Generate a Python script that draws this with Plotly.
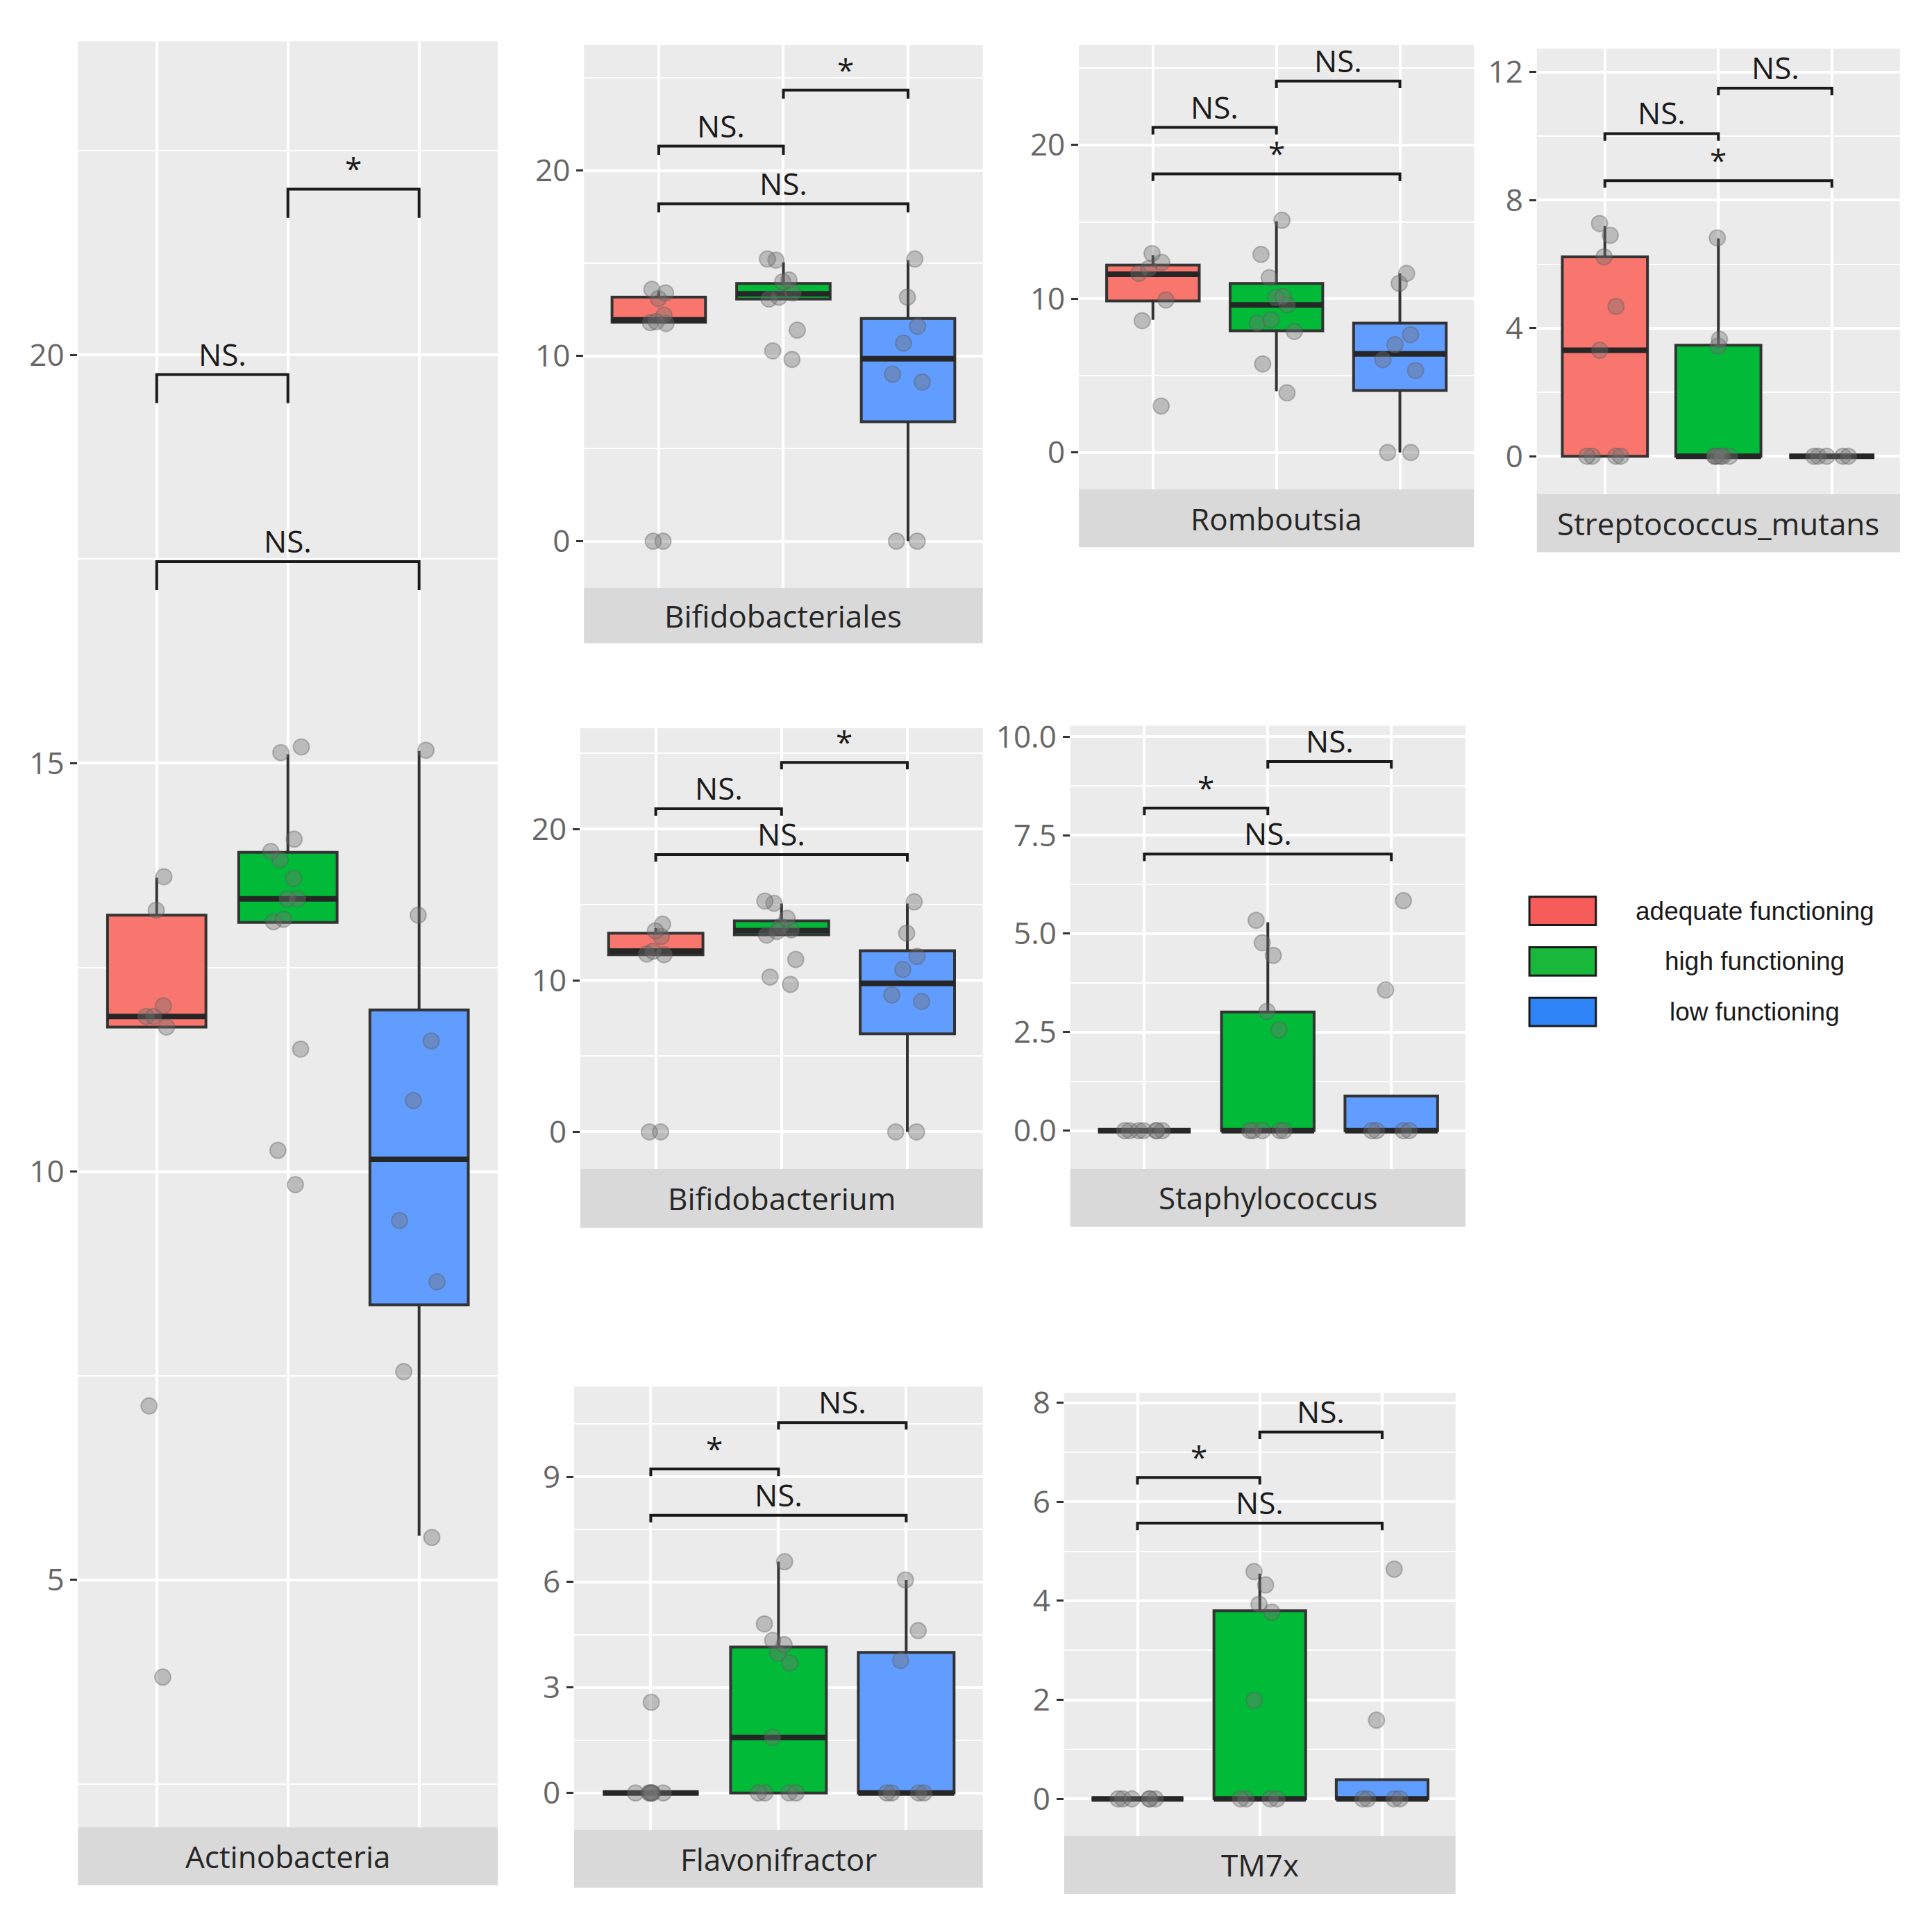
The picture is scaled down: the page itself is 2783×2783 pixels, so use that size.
import plotly.graph_objects as go

# ---------------- data ----------------
GROUPS = ["adequate functioning", "high functioning", "low functioning"]
BOX_FILL = ["#F8766D", "#00BA38", "#619CFF"]
LEGEND_FILL = ["#F65C5A", "#1AB83A", "#2F85F7"]

TAXA = ["Actinobacteria", "Bifidobacteriales", "Romboutsia", "Streptococcus_mutans",
        "Bifidobacterium", "Staphylococcus", "Flavonifractor", "TM7x"]

# box stats per group: [lower whisker, Q1, median, Q3, upper whisker]
ACTINO_STATS = [[11.77, 11.77, 11.90, 13.14, 13.60],
                [13.05, 13.05, 13.34, 13.91, 15.11],
                [5.54, 8.37, 10.15, 11.98, 15.15]]
ACTINO_PTS = [[13.61, 13.20, 12.03, 11.90, 11.90, 11.77, 7.13, 3.81],
              [15.20, 15.13, 14.07, 13.92, 13.82, 13.59, 13.34, 13.34, 13.09, 13.06, 11.50, 10.26, 9.84],
              [15.16, 13.14, 11.60, 10.87, 9.40, 8.65, 7.55, 5.52]]

BIFIDOALES_STATS = [[11.75, 11.81, 11.95, 13.17, 13.49],
                    [13.07, 13.07, 13.35, 13.91, 15.06],
                    [0.0, 6.45, 9.85, 12.02, 15.17]]
BIFIDOALES_PTS = [[13.59, 13.40, 13.10, 12.20, 11.85, 11.80, 11.75, 0.0, 0.0],
                  [15.17, 15.23, 14.00, 14.10, 13.40, 13.17, 13.07, 11.39, 10.27, 9.81],
                  [15.23, 13.17, 11.60, 10.69, 9.01, 8.59, 0.0, 0.0]]

ROMBOUTSIA_STATS = [[8.63, 9.86, 11.59, 12.19, 12.84],
                    [3.99, 7.92, 9.60, 11.00, 15.04],
                    [0.0, 4.03, 6.41, 8.41, 11.65]]
ROMBOUTSIA_PTS = [[12.94, 12.36, 11.97, 11.65, 9.92, 8.57, 3.02],
                  [15.10, 12.88, 11.37, 10.14, 10.08, 9.60, 8.63, 8.41, 7.87, 5.76, 3.88],
                  [11.65, 11.00, 7.66, 7.01, 6.04, 5.33, 0.0, 0.0]]

STREP_STATS = [[0.0, 0.0, 3.31, 6.23, 7.19],
               [0.0, 0.0, 0.0, 3.47, 6.80],
               [0.0, 0.0, 0.0, 0.0, 0.0]]
STREP_PTS = [[7.27, 6.90, 6.23, 4.68, 3.31, 0.0, 0.0, 0.0, 0.0],
             [6.82, 3.65, 3.44, 0.0, 0.0, 0.0, 0.0, 0.0, 0.0],
             [0.0, 0.0, 0.0, 0.0, 0.0]]

BIFIDOIUM_STATS = [[11.71, 11.71, 11.95, 13.13, 13.46],
                   [13.02, 13.02, 13.30, 13.94, 15.09],
                   [0.0, 6.48, 9.81, 11.97, 15.09]]
BIFIDOIUM_PTS = [[13.72, 13.28, 12.91, 11.93, 11.75, 11.71, 0.0, 0.0],
                 [15.25, 15.10, 14.11, 13.57, 13.35, 13.24, 13.00, 11.39, 10.23, 9.75],
                 [15.20, 13.13, 11.60, 10.73, 9.05, 8.62, 0.0, 0.0]]

STAPH_STATS = [[0.0, 0.0, 0.0, 0.0, 0.0],
               [0.0, 0.0, 0.0, 3.01, 5.29],
               [0.0, 0.0, 0.0, 0.88, 0.88]]
STAPH_PTS = [[0.0, 0.0, 0.0, 0.0, 0.0, 0.0, 0.0],
             [5.34, 4.77, 4.45, 3.03, 2.56, 0.0, 0.0, 0.0, 0.0, 0.0],
             [5.84, 3.57, 0.0, 0.0, 0.0, 0.0]]

FLAVO_STATS = [[0.0, 0.0, 0.0, 0.0, 0.0],
               [0.0, 0.0, 1.58, 4.15, 6.58],
               [0.0, 0.0, 0.0, 4.00, 6.06]]
FLAVO_PTS = [[2.58, 0.0, 0.0, 0.0, 0.0, 0.0, 0.0, 0.0],
             [6.58, 4.81, 4.34, 4.22, 3.98, 3.70, 1.58, 0.0, 0.0, 0.0, 0.0],
             [6.06, 4.62, 3.77, 0.0, 0.0, 0.0, 0.0]]

TM7X_STATS = [[0.0, 0.0, 0.0, 0.0, 0.0],
              [0.0, 0.0, 0.0, 3.80, 4.55],
              [0.0, 0.0, 0.0, 0.39, 0.39]]
TM7X_PTS = [[0.0, 0.0, 0.0, 0.0, 0.0, 0.0],
            [4.59, 4.32, 3.93, 3.77, 1.99, 0.0, 0.0, 0.0, 0.0],
            [4.64, 1.59, 0.0, 0.0, 0.0, 0.0]]

# significance brackets: (group i, group j, bracket height, label)
ACTINO_SIG = [(0, 1, 19.76, "NS."), (1, 2, 22.03, "*"), (0, 2, 17.47, "NS.")]
BIFIDOALES_SIG = [(0, 1, 21.32, "NS."), (1, 2, 24.35, "*"), (0, 2, 18.21, "NS.")]
ROMBOUTSIA_SIG = [(0, 1, 21.14, "NS."), (1, 2, 24.16, "NS."), (0, 2, 18.12, "*")]
STREP_SIG = [(0, 1, 10.08, "NS."), (1, 2, 11.50, "NS."), (0, 2, 8.61, "*")]
BIFIDOIUM_SIG = [(0, 1, 21.35, "NS."), (1, 2, 24.41, "*"), (0, 2, 18.32, "NS.")]
STAPH_SIG = [(0, 1, 8.19, "*"), (1, 2, 9.37, "NS."), (0, 2, 7.02, "NS.")]
FLAVO_SIG = [(0, 1, 9.22, "*"), (1, 2, 10.54, "NS."), (0, 2, 7.90, "NS.")]
TM7X_SIG = [(0, 1, 6.49, "*"), (1, 2, 7.41, "NS."), (0, 2, 5.57, "NS.")]

STATS = [ACTINO_STATS, BIFIDOALES_STATS, ROMBOUTSIA_STATS, STREP_STATS,
         BIFIDOIUM_STATS, STAPH_STATS, FLAVO_STATS, TM7X_STATS]
POINTS = [ACTINO_PTS, BIFIDOALES_PTS, ROMBOUTSIA_PTS, STREP_PTS,
          BIFIDOIUM_PTS, STAPH_PTS, FLAVO_PTS, TM7X_PTS]
SIGS = [ACTINO_SIG, BIFIDOALES_SIG, ROMBOUTSIA_SIG, STREP_SIG,
        BIFIDOIUM_SIG, STAPH_SIG, FLAVO_SIG, TM7X_SIG]

# axis settings per panel
Y_RANGES = [[1.97, 23.84], [-2.52, 26.78], [-2.4, 26.5], [-1.19, 12.73],
            [-2.44, 26.67], [-0.97, 10.28], [-1.05, 11.56], [-0.75, 8.2]]
Y_DTICK = [5, 10, 10, 4, 10, 2.5, 3, 2]
Y_FORMAT = ["", "", "", "", "", ".1f", "", ""]

# ---------------- layout geometry (reference pixels on a 1560 grid) ----------------
V = 1560.0
# (left, right, top, bottom, strip bottom)
PANEL_PX = [(63, 404, 32, 1483, 1530),
            (474, 798, 35, 476, 521),
            (876, 1197, 35, 396, 443),
            (1248, 1543, 38, 400, 447),
            (471, 798, 590, 948, 996),
            (869, 1190, 588, 948, 995),
            (466, 798, 1125, 1485, 1532),
            (864, 1182, 1130, 1490, 1537)]


def px(xv):
    return (63 + (xv - 63) * 0.994) / V


def py(yv):
    return 1 - (yv - 8) / V


FONT = "Open Sans"
fig = go.Figure()
shapes = []
annotations = []
layout_axes = {}

for k, name in enumerate(TAXA):
    n = k + 1
    xa = "x" if n == 1 else f"x{n}"
    ya = "y" if n == 1 else f"y{n}"
    L, R, T, B, SB = PANEL_PX[k]
    for g in range(3):
        lo, q1, med, q3, hi = STATS[k][g]
        fig.add_trace(go.Box(
            x=[g], q1=[q1], median=[med], q3=[q3], lowerfence=[lo], upperfence=[hi],
            width=0.75, fillcolor=BOX_FILL[g], line=dict(color="#333333", width=4),
            whiskerwidth=0, boxpoints=False, xaxis=xa, yaxis=ya,
            showlegend=False, hoverinfo="skip"))
        # thick median bar (ggplot fatten)
        fig.add_trace(go.Box(
            x=[g], q1=[med], median=[med], q3=[med], lowerfence=[med], upperfence=[med],
            width=0.75, fillcolor="rgba(0,0,0,0)", line=dict(color="#262626", width=8),
            whiskerwidth=0, boxpoints=False, xaxis=xa, yaxis=ya,
            showlegend=False, hoverinfo="skip"))
    for g in range(3):
        pts = POINTS[k][g]
        fig.add_trace(go.Box(
            x=[g] * len(pts), y=pts, width=0.75, boxpoints="all", jitter=0.5, pointpos=0,
            fillcolor="rgba(0,0,0,0)", line=dict(color="rgba(0,0,0,0)", width=0),
            marker=dict(color="rgba(115,115,115,0.40)", size=23,
                        line=dict(color="rgba(90,90,90,0.35)", width=2)),
            xaxis=xa, yaxis=ya, showlegend=False, hoverinfo="skip"))

    yr = Y_RANGES[k]
    tip = 0.016 * (yr[1] - yr[0])
    for (i, j, yb, lab) in SIGS[k]:
        shapes.append(dict(type="path", xref=xa, yref=ya,
                           path=f"M {i},{yb - tip} L {i},{yb} L {j},{yb} L {j},{yb - tip}",
                           line=dict(color="#1a1a1a", width=4)))
        annotations.append(dict(x=(i + j) / 2, y=yb, xref=xa, yref=ya, text=lab,
                                showarrow=False, yanchor="bottom", yshift=-2,
                                font=dict(family=FONT, size=44, color="#1a1a1a")))

    xkey = "xaxis" if n == 1 else f"xaxis{n}"
    ykey = "yaxis" if n == 1 else f"yaxis{n}"
    layout_axes[xkey] = dict(domain=[px(L), px(R)], range=[-0.6, 2.6], anchor=ya,
                             tickvals=[0, 1, 2], showticklabels=False, ticks="",
                             showgrid=True, gridcolor="white", gridwidth=4,
                             zeroline=False, showline=False, fixedrange=True)
    dt = Y_DTICK[k]
    layout_axes[ykey] = dict(domain=[py(B), py(T)], range=yr, anchor=xa,
                             tick0=0, dtick=dt, tickformat=Y_FORMAT[k],
                             ticks="outside", ticklen=10, tickwidth=3, tickcolor="#333333",
                             tickfont=dict(family=FONT, size=44, color="#666666"),
                             showgrid=True, gridcolor="white", gridwidth=4,
                             minor=dict(tick0=0, dtick=dt / 2, showgrid=True,
                                        gridcolor="white", gridwidth=2, ticks=""),
                             zeroline=False, showline=False, fixedrange=True)

    # facet strip
    shapes.append(dict(type="rect", xref="paper", yref="paper", layer="below",
                       x0=px(L), x1=px(R), y0=py(SB), y1=py(B),
                       fillcolor="#D9D9D9", line=dict(width=0)))
    annotations.append(dict(x=(px(L) + px(R)) / 2, y=(py(B) + py(SB)) / 2,
                            xref="paper", yref="paper", text=name, showarrow=False,
                            xanchor="center", yanchor="middle",
                            font=dict(family=FONT, size=44, color="#262626")))

# legend (manual, ggplot style)
for g, label in enumerate(GROUPS):
    top = 727 + 41 * g
    shapes.append(dict(type="rect", xref="paper", yref="paper",
                       x0=px(1242), x1=px(1296), y0=py(top + 23), y1=py(top),
                       fillcolor=LEGEND_FILL[g], line=dict(color="#1a1a1a", width=3)))
    annotations.append(dict(x=px(1425), y=py(top + 11.5), xref="paper", yref="paper",
                            text=label, showarrow=False, xanchor="center", yanchor="middle",
                            font=dict(family="Liberation Sans", size=37, color="#1a1a1a")))

fig.update_layout(
    width=2783, height=2783,
    margin=dict(l=0, r=0, t=0, b=0),
    paper_bgcolor="white", plot_bgcolor="#EBEBEB",
    boxmode="overlay", showlegend=False,
    shapes=shapes, annotations=annotations,
    **layout_axes)

fig.write_html(
    "out.html",
    config={"displayModeBar": False},
    post_script=("document.body.style.margin='0px';"
                 "document.body.style.overflow='hidden';"
                 "var d=document.getElementById('{plot_id}');"
                 "d.style.position='absolute';d.style.top='0px';d.style.left='0px';"))
